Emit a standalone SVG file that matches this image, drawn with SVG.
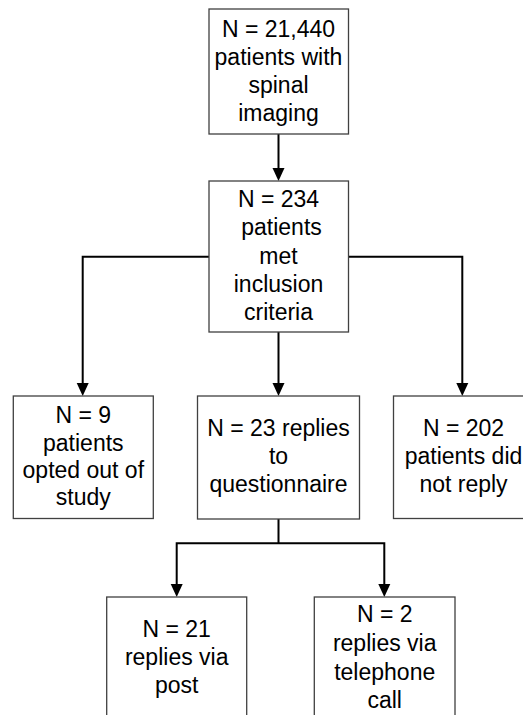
<svg xmlns="http://www.w3.org/2000/svg" width="523" height="715" viewBox="0 0 523 715">
<defs>
<style>
.box{fill:#fff;stroke:#404040;stroke-width:1.3}
.t{font-family:"Liberation Sans",Arial,sans-serif;font-size:23px;fill:#000;text-anchor:middle}
.c{fill:none;stroke:#000;stroke-width:2}
.h{fill:#000}
</style>
</defs>
<rect width="523" height="715" fill="#fff"/>
<g id="connectors">
<path class="c" d="M278.5,134 V168"/>
<path class="h" d="M272.5,168 L284.5,168 L278.5,181 Z"/>
<path class="c" d="M278.5,332 V383"/>
<path class="h" d="M272.5,383 L284.5,383 L278.5,396 Z"/>
<path class="c" d="M209,256.7 H82.7 V383"/>
<path class="h" d="M76.7,383 L88.7,383 L82.7,396 Z"/>
<path class="c" d="M348,256.7 H462.3 V383"/>
<path class="h" d="M456.3,383 L468.3,383 L462.3,396 Z"/>
<path class="c" d="M278.5,519 V543.3 M176.7,543.3 H384.3 M176.7,542.3 V584 M384.3,542.3 V584"/>
<path class="h" d="M170.7,584 L182.7,584 L176.7,597 Z"/>
<path class="h" d="M378.3,584 L390.3,584 L384.3,597 Z"/>
</g>
<g id="n1">
<rect class="box" x="209" y="9" width="139.5" height="125"/>
<text class="t" x="278.5" y="36.5">N = 21,440</text>
<text class="t" x="278.5" y="64.5">patients with</text>
<text class="t" x="278.5" y="92.5">spinal</text>
<text class="t" x="278.5" y="120.5">imaging</text>
</g>
<g id="n2">
<rect class="box" x="209" y="181" width="139.5" height="151"/>
<text class="t" x="278.5" y="207">N = 234</text>
<text class="t" x="281.5" y="235.3">patients</text>
<text class="t" x="278.5" y="263.6">met</text>
<text class="t" x="278.5" y="291.9">inclusion</text>
<text class="t" x="278.5" y="320.2">criteria</text>
</g>
<g id="n3">
<rect class="box" x="13.3" y="396" width="140" height="122.5"/>
<text class="t" x="83.3" y="423.3">N = 9</text>
<text class="t" x="83.3" y="450.5">patients</text>
<text class="t" x="83.3" y="477.8">opted out of</text>
<text class="t" x="83.3" y="505">study</text>
</g>
<g id="n4">
<rect class="box" x="197.5" y="396" width="162" height="123"/>
<text class="t" x="278.5" y="436">N = 23 replies</text>
<text class="t" x="278.5" y="463.8">to</text>
<text class="t" x="278.5" y="491.6">questionnaire</text>
</g>
<g id="n5">
<rect class="box" x="393.5" y="396" width="160" height="122.5"/>
<text class="t" x="463.5" y="436">N = 202</text>
<text class="t" x="463.5" y="463.8">patients did</text>
<text class="t" x="463.5" y="491.6">not reply</text>
</g>
<g id="n6">
<rect class="box" x="106.7" y="597" width="140" height="140"/>
<text class="t" x="176.7" y="636.7">N = 21</text>
<text class="t" x="176.7" y="664.7">replies via</text>
<text class="t" x="176.7" y="692.7">post</text>
</g>
<g id="n7">
<rect class="box" x="314.3" y="597" width="140.7" height="140"/>
<text class="t" x="384.7" y="622.3">N = 2</text>
<text class="t" x="384.7" y="651">replies via</text>
<text class="t" x="384.7" y="679.5">telephone</text>
<text class="t" x="384.7" y="708">call</text>
</g>
</svg>
